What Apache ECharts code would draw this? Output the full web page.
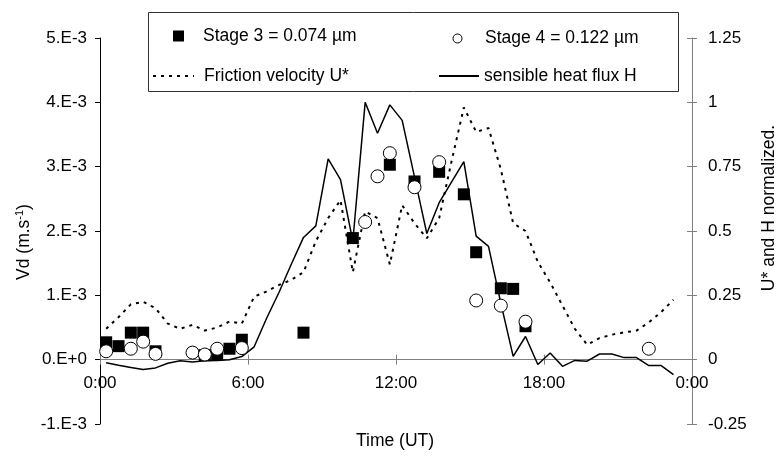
<!DOCTYPE html>
<html>
<head>
<meta charset="utf-8">
<script src="https://cdn.jsdelivr.net/npm/echarts@6/dist/echarts.min.js"></script>
<style>
html,body{margin:0;padding:0;background:#fff;}
#c{width:777px;height:467px;}
</style>
</head>
<body>
<div id="c"></div>
<script>
// Time (hours UT) of the particle samples
const stage3Time = [0.25, 0.75, 1.25, 1.75, 2.25, 4.25, 4.75, 5.25, 5.75, 8.25, 10.25, 11.75, 12.75, 13.75, 14.75, 15.25, 16.25, 16.75, 17.25];
// Vd, in units of 1e-3 m/s
const stage3Vd = [0.27, 0.21, 0.42, 0.42, 0.13, 0.07, 0.08, 0.17, 0.31, 0.42, 1.89, 3.03, 2.77, 2.92, 2.57, 1.67, 1.11, 1.10, 0.52];

const stage4Time = [0.25, 1.25, 1.75, 2.25, 3.75, 4.25, 4.75, 5.75, 10.75, 11.25, 11.75, 12.75, 13.75, 15.25, 16.25, 17.25, 22.25];
const stage4Vd = [0.13, 0.17, 0.28, 0.09, 0.11, 0.08, 0.17, 0.18, 2.14, 2.85, 3.21, 2.68, 3.07, 0.92, 0.84, 0.59, 0.17];

// Half-hourly normalized micrometeorology
const metTime = [0.25, 0.75, 1.25, 1.75, 2.25, 2.75, 3.25, 3.75, 4.25, 4.75, 5.25, 5.75, 6.25, 6.75, 7.25, 7.75, 8.25, 8.75, 9.25, 9.75, 10.25, 10.75, 11.25, 11.75, 12.25, 12.75, 13.25, 13.75, 14.25, 14.75, 15.25, 15.75, 16.25, 16.75, 17.25, 17.75, 18.25, 18.75, 19.25, 19.75, 20.25, 20.75, 21.25, 21.75, 22.25, 22.75, 23.25];
const frictionU = [0.12, 0.165, 0.215, 0.225, 0.2, 0.14, 0.12, 0.135, 0.113, 0.125, 0.148, 0.14, 0.245, 0.265, 0.29, 0.31, 0.34, 0.46, 0.55, 0.62, 0.34, 0.576, 0.55, 0.37, 0.6, 0.53, 0.472, 0.55, 0.77, 0.98, 0.885, 0.9, 0.74, 0.53, 0.5, 0.38, 0.3, 0.21, 0.12, 0.058, 0.084, 0.097, 0.106, 0.113, 0.145, 0.185, 0.233];
const heatFluxH = [-0.012, -0.022, -0.03, -0.038, -0.032, -0.014, -0.004, -0.009, -0.004, -0.003, 0.0, 0.012, 0.05, 0.16, 0.26, 0.37, 0.475, 0.52, 0.78, 0.70, 0.46, 1.0, 0.88, 0.99, 0.93, 0.71, 0.49, 0.61, 0.69, 0.77, 0.48, 0.44, 0.22, 0.013, 0.09, -0.019, 0.026, -0.026, -0.003, -0.006, 0.022, 0.022, 0.008, 0.008, -0.023, -0.023, -0.058];

// Tick labels
const xTickLabels = ['0:00', '6:00', '12:00', '18:00', '0:00'];
const leftTickLabels = ['-1.E-3', '0.E+0', '1.E-3', '2.E-3', '3.E-3', '4.E-3', '5.E-3'];
const rightTickLabels = ['-0.25', '0', '0.25', '0.5', '0.75', '1', '1.25'];

const seriesNames = ['Stage 3 = 0.074 \u00b5m', 'Stage 4 = 0.122 \u00b5m', 'Friction velocity U*', 'sensible heat flux H'];

const FONT = 'Liberation Sans, Arial, sans-serif';
const FS = 17;
const zip = (a, b) => a.map((v, i) => [v, b[i]]);

const el = document.getElementById('c');
const chart = echarts.init(el, null, {renderer: 'canvas'});

const GRID = {left: 100, right: 85, top: 38, bottom: 43};
const plotH = 467 - GRID.top - GRID.bottom;
// distance from the grid bottom up to the Vd = 0 line (axis range -1 .. 5)
const zeroOffset = -plotH * (0 - (-1)) / (5 - (-1));

const legendBase = {
  orient: 'horizontal', padding: 0, z: 20, selectedMode: false,
  textStyle: {fontFamily: FONT, fontSize: 17.5, color: '#000', lineHeight: 20}
};
const txt = (pad) => Object.assign({}, legendBase.textStyle, {padding: [0, 0, 0, pad]});

chart.setOption({
  animation: false,
  backgroundColor: '#fff',
  grid: Object.assign({containLabel: false}, GRID),
  xAxis: [
    {
      type: 'value', min: 0, max: 24, interval: 6, position: 'bottom', offset: zeroOffset,
      axisLine: {show: true, onZero: false, lineStyle: {color: '#808080', width: 1}},
      axisTick: {show: true, length: 5, lineStyle: {color: '#808080'}},
      splitLine: {show: false},
      axisLabel: {
        margin: 15, fontFamily: FONT, fontSize: FS, color: '#000',
        formatter: (v) => xTickLabels[Math.round(v / 6)]
      }
    },
    {
      type: 'value', min: 0, max: 24, interval: 6, position: 'bottom', offset: zeroOffset,
      axisLine: {show: false, onZero: false},
      axisTick: {show: true, inside: true, length: 5, lineStyle: {color: '#808080'}},
      splitLine: {show: false},
      axisLabel: {show: false}
    }
  ],
  yAxis: [
    {
      type: 'value', min: -1, max: 5, interval: 1, position: 'left',
      axisLine: {show: true, onZero: false, lineStyle: {color: '#000', width: 1}},
      axisTick: {show: true, length: 5, lineStyle: {color: '#000'}},
      splitLine: {show: false},
      axisLabel: {
        margin: 13, fontFamily: FONT, fontSize: FS, color: '#000',
        formatter: (v) => leftTickLabels[Math.round(v + 1)]
      }
    },
    {
      type: 'value', min: -0.25, max: 1.25, interval: 0.25, position: 'right',
      axisLine: {show: true, onZero: false, lineStyle: {color: '#808080', width: 1}},
      axisTick: {show: true, length: 5, lineStyle: {color: '#808080'}},
      splitLine: {show: false},
      axisLabel: {
        margin: 16, fontFamily: FONT, fontSize: FS, color: '#000',
        formatter: (v) => rightTickLabels[Math.round(v / 0.25 + 1)]
      }
    },
    {
      type: 'value', min: -0.25, max: 1.25, interval: 0.25, position: 'right',
      axisLine: {show: false, onZero: false},
      axisTick: {show: true, inside: true, length: 5, lineStyle: {color: '#808080'}},
      splitLine: {show: false},
      axisLabel: {show: false}
    }
  ],
  legend: [
    Object.assign({}, legendBase, {
      left: 173, top: 26, itemWidth: 11, itemHeight: 11,
      data: [{name: seriesNames[0], icon: 'rect', itemStyle: {color: '#000'}}],
      textStyle: txt(14)
    }),
    Object.assign({}, legendBase, {
      left: 452.5, top: 28.5, itemWidth: 9, itemHeight: 9,
      data: [{name: seriesNames[1], icon: 'circle', itemStyle: {color: '#fff', borderColor: '#000', borderWidth: 1}}],
      textStyle: txt(18)
    }),
    Object.assign({}, legendBase, {
      left: 152, top: 66, itemWidth: 41, itemHeight: 14,
      data: [{name: seriesNames[2], itemStyle: {opacity: 0}}],
      textStyle: txt(5)
    }),
    Object.assign({}, legendBase, {
      left: 438, top: 66, itemWidth: 40, itemHeight: 14,
      data: [{name: seriesNames[3], itemStyle: {opacity: 0}}],
      textStyle: txt(0)
    })
  ],
  graphic: [
    {type: 'rect', z: 10, shape: {x: 148.5, y: 12.5, width: 530, height: 79},
     style: {fill: '#fff', stroke: '#333', lineWidth: 1}},
    {type: 'text', z: 10, x: 24, y: 242, rotation: Math.PI / 2,
     style: {text: '{n|Vd (m.s}{s|-1}{n|)}', align: 'center', verticalAlign: 'middle',
             rich: {n: {fontFamily: FONT, fontSize: 17.5, fill: '#000'},
                    s: {fontFamily: FONT, fontSize: 11, fill: '#000', verticalAlign: 'top', padding: [0, 0, 9, 0]}}}},
    {type: 'text', z: 10, x: 769, y: 208, rotation: Math.PI / 2,
     style: {text: 'U* and H normalized.', align: 'center', verticalAlign: 'middle',
             font: '17.5px ' + FONT, fill: '#000'}},
    {type: 'text', z: 10, x: 395, y: 441,
     style: {text: 'Time (UT)', align: 'center', verticalAlign: 'middle',
             font: '17.5px ' + FONT, fill: '#000'}}
  ],
  series: [
    {
      name: seriesNames[2], type: 'line', xAxisIndex: 0, yAxisIndex: 1, z: 2,
      data: zip(metTime, frictionU), symbol: 'none', showSymbol: false,
      lineStyle: {color: '#000', width: 2, type: [3, 5]},
      itemStyle: {color: '#000'}
    },
    {
      name: seriesNames[3], type: 'line', xAxisIndex: 0, yAxisIndex: 1, z: 2,
      data: zip(metTime, heatFluxH), symbol: 'none', showSymbol: false,
      lineStyle: {color: '#000', width: 1.5, type: 'solid'},
      itemStyle: {color: '#000'}
    },
    {
      name: seriesNames[0], type: 'scatter', xAxisIndex: 0, yAxisIndex: 0, z: 3,
      data: zip(stage3Time, stage3Vd), symbol: 'rect', symbolSize: 12,
      itemStyle: {color: '#000', opacity: 1}
    },
    {
      name: seriesNames[1], type: 'scatter', xAxisIndex: 0, yAxisIndex: 0, z: 4,
      data: zip(stage4Time, stage4Vd), symbol: 'circle', symbolSize: 13,
      itemStyle: {color: '#fff', borderColor: '#000', borderWidth: 1, opacity: 1}
    }
  ]
});
</script>
</body>
</html>
